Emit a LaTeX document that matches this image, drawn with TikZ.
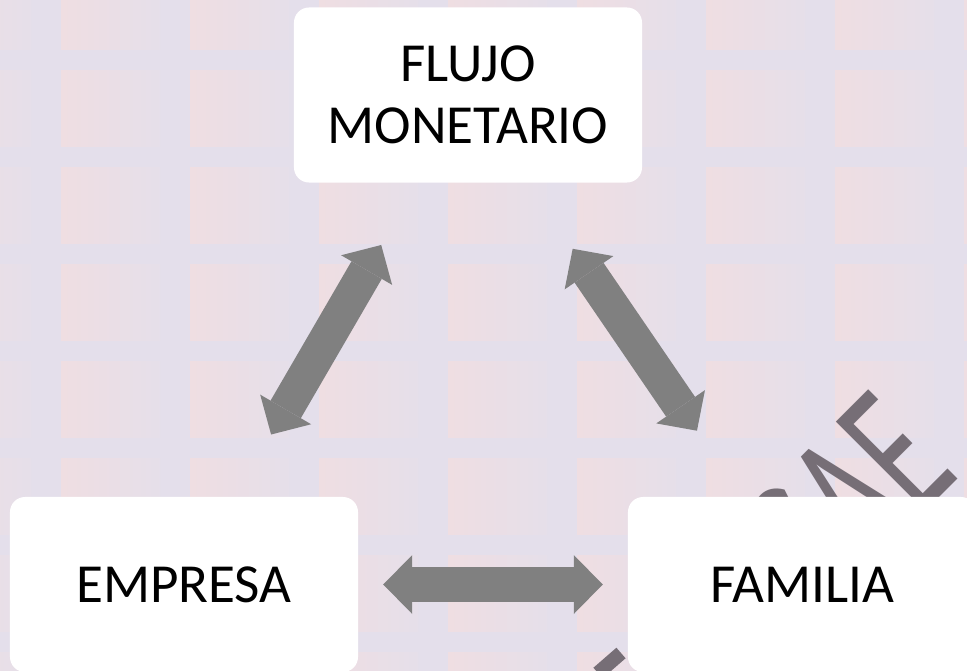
\documentclass[tikz,border=0pt]{standalone}
\usepackage{fontspec}
\setmainfont{Carlito}
\usetikzlibrary{arrows.meta}

\definecolor{lavbg}{RGB}{228,223,235}
\definecolor{pinksq}{RGB}{239,222,226}
\definecolor{arrgray}{RGB}{128,128,128}
\definecolor{wmark}{RGB}{118,110,118}

\begin{document}
\begin{tikzpicture}[x=0.03cm,y=-0.03cm,
  box/.style={rectangle, rounded corners=0.45cm, fill=white, minimum width=10.44cm, minimum height=5.25cm, inner sep=0pt, align=center, font=\fontsize{47}{53}\selectfont},
  blockarr/.style={draw=arrgray, line width=1.05cm, >={Triangle[length=0.87cm,width=1.77cm,line width=0pt]}, <->}]

	\clip (0,0) rectangle (967,671);
	\fill[lavbg] (0,0) rectangle (967,671);

	% background tiles
	\foreach \i in {-1,...,7}
		\foreach \j in {-1,...,6}
			\shade[left color=pinksq, right color=lavbg!85!pinksq] ({61+129*\i},{70+97*\j}) rectangle +(99,76);

	% watermark behind the boxes
	\node[rotate=45, xscale=.62, inner sep=0pt, text=wmark, font=\fontsize{168}{168}\selectfont] (wm) at (851,496) {SAE};
	\draw[wmark, line width=0.42cm] (598,673) -- (621,653);

	\node[box] (flujo) at (468,95) {FLUJO\\MONETARIO};

	\node[box] (emp) at (184,584.5) {EMPRESA};

	\node[box] (fam) at (802,584.5) {FAMILIA};

	\draw[blockarr, shorten <=2.16cm, shorten >=2.16cm] (emp) -- (flujo);
	\draw[blockarr, shorten <=2.4cm, shorten >=2.4cm] (fam) -- (flujo);
	\draw[blockarr, shorten <=0.75cm, shorten >=0.75cm] (emp) -- (fam);

\end{tikzpicture}
\end{document}
